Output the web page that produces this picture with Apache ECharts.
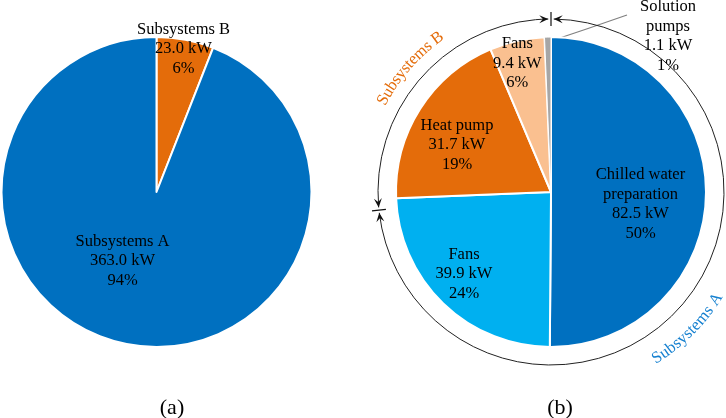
<!DOCTYPE html>
<html>
<head>
<meta charset="utf-8">
<script src="https://cdn.jsdelivr.net/npm/echarts@6/dist/echarts.min.js"></script>
<style>
  html, body { margin: 0; padding: 0; background: #fff; }
  #chart { width: 726px; height: 418px; }
</style>
</head>
<body>
<div id="chart"></div>
<script>
// (a) total power of the two subsystem groups, kW
var groupNames = ["Subsystems B", "Subsystems A"];
var groupValues = [23.0, 363.0];
// (b) breakdown by component, kW
var partNames = ["Chilled water\npreparation", "Fans", "Heat pump", "Fans", "Solution\npumps"];
var partValues = [82.5, 39.9, 31.7, 9.4, 1.1];
var captions = ["(a)", "(b)"];
var ringNames = ["Subsystems B", "Subsystems A"];

var FONT = "Liberation Serif";
var blue = "#0070C0", lightBlue = "#00B0F0", orange = "#E46C0A", peach = "#FAC090", grey = "#A6A6A6";
var groupColors = [orange, blue];
var partColors = [blue, lightBlue, orange, peach, grey];

// label nudges (px) so the texts sit where they do in the figure
var groupShift = [[12, -64], [-19, -10]];
var partShift = [[9, 12], [-31, 24], [-26, -4], [-16, -50]];

var cxA = 156.5, cyA = 192, cxB = 551, cyB = 192, pieR = 155;

var myChart = echarts.init(document.getElementById("chart"));

function fmt(p) {
  return p.name + "\n" + p.value.toFixed(1) + " kW\n" + Math.round(p.percent) + "%";
}
var labelStyle = {
  show: true, position: "inside", formatter: fmt,
  fontFamily: FONT, fontSize: 16.5, lineHeight: 19.5, color: "#000", align: "center"
};

// ring around pie (b): screen angles in degrees, clockwise from +x
var ringR = 173, split = 174, gap = 0.9;
function pt(deg, r) {
  var a = deg * Math.PI / 180;
  return [cxB + r * Math.cos(a), cyB + r * Math.sin(a)];
}
function arrow(deg, s) {
  var a = deg * Math.PI / 180;
  var p = pt(deg, ringR);
  var d = [-Math.sin(a) * s, Math.cos(a) * s];
  var n = [-d[1], d[0]];
  var L = 9, W = 8;
  var b = [p[0] - L * d[0], p[1] - L * d[1]];
  var m = [p[0] - 0.6 * L * d[0], p[1] - 0.6 * L * d[1]];
  return {
    type: "polygon",
    shape: { points: [p, [b[0] + n[0] * W / 2, b[1] + n[1] * W / 2], m, [b[0] - n[0] * W / 2, b[1] - n[1] * W / 2]] },
    style: { fill: "#111" }, z: 10
  };
}
function bar(deg) {
  var p1 = pt(deg, ringR - 7), p2 = pt(deg, ringR + 7);
  return { type: "line", shape: { x1: p1[0], y1: p1[1], x2: p2[0], y2: p2[1] }, style: { stroke: "#111", lineWidth: 1.2 }, z: 10 };
}
function arc(a0, a1) {
  return {
    type: "arc",
    shape: { cx: cxB, cy: cyB, r: ringR, startAngle: a0 * Math.PI / 180, endAngle: a1 * Math.PI / 180, clockwise: true },
    style: { stroke: "#222", fill: "none", lineWidth: 1 }, z: 10
  };
}

// text bent along a circle; math angles (counter-clockwise, y up)
var CURVE_FONT = "16.5px \"" + FONT + "\"";
var mctx = document.createElement("canvas").getContext("2d");
mctx.font = CURVE_FONT;
function curved(str, midDeg, R, topsOut, color) {
  var total = mctx.measureText(str).width;
  var span = total / R;
  var mid = midDeg * Math.PI / 180;
  var acc = 0, out = [];
  for (var i = 0; i < str.length; i++) {
    var w = mctx.measureText(str[i]).width;
    var off = (acc + w / 2) / R;
    var th = topsOut ? mid + span / 2 - off : mid - span / 2 + off;
    out.push({
      type: "text",
      x: cxB + R * Math.cos(th), y: cyB - R * Math.sin(th),
      rotation: topsOut ? th - Math.PI / 2 : th + Math.PI / 2,
      style: { text: str[i], font: CURVE_FONT, fill: color, textAlign: "center", textVerticalAlign: "middle" },
      z: 10
    });
    acc += w;
  }
  return out;
}

var partTotal = partValues.reduce(function (s, v) { return s + v; }, 0);
var lastMid = (partTotal - partValues[partValues.length - 1] / 2) / partTotal;
var leadA = (90 - 360 * lastMid) * Math.PI / 180;
var leadStart = [cxB + 150 * Math.cos(leadA), cyB - 150 * Math.sin(leadA)];

var elements = [
  arc(split + gap, 270 - gap),
  arc(-90 + gap, split - gap),
  arrow(270 - gap, 1), arrow(-90 + gap, -1),
  arrow(split + gap, -1), arrow(split - gap, 1),
  bar(270), bar(split)
].concat(curved(ringNames[0], 138.7, 191, true, orange))
 .concat(curved(ringNames[1], -45, 197, false, "#1580D0"));

myChart.setOption({
  animation: false,
  title: captions.map(function (c, i) {
    return {
      text: c, left: i === 0 ? 167 : 555, top: 392, textAlign: "center",
      textStyle: { fontFamily: FONT, fontSize: 22, fontWeight: "normal", color: "#000" }
    };
  }),
  series: [
    {
      type: "pie",
      center: [cxA, cyA],
      radius: pieR,
      startAngle: 90,
      avoidLabelOverlap: false,
      itemStyle: { borderColor: "#fff", borderWidth: 2 },
      label: labelStyle,
      labelLine: { show: false },
      labelLayout: function (p) {
        var s = groupShift[p.dataIndex];
        return { dx: s[0], dy: s[1] };
      },
      data: groupNames.map(function (n, i) {
        return { name: n, value: groupValues[i], itemStyle: { color: groupColors[i] } };
      })
    },
    {
      type: "pie",
      center: [cxB, cyB],
      radius: pieR,
      startAngle: 90,
      avoidLabelOverlap: false,
      itemStyle: { borderColor: "#fff", borderWidth: 2 },
      label: labelStyle,
      labelLine: { show: false },
      labelLayout: function (p) {
        if (p.dataIndex === partValues.length - 1) {
          return {
            x: 668, y: 36, align: "center", verticalAlign: "middle",
            labelLinePoints: [leadStart, [588, 28.5], [627, 15]]
          };
        }
        var s = partShift[p.dataIndex];
        return { dx: s[0], dy: s[1] };
      },
      data: partNames.map(function (n, i) {
        var d = { name: n, value: partValues[i], itemStyle: { color: partColors[i] } };
        if (i === partNames.length - 1) {
          d.label = { position: "outside" };
          d.labelLine = { show: true, length: 10, length2: 10, lineStyle: { color: "#808080", width: 1.2 } };
          d.itemStyle.borderWidth = 1;
        }
        return d;
      })
    }
  ],
  graphic: { elements: elements }
});
</script>
</body>
</html>
